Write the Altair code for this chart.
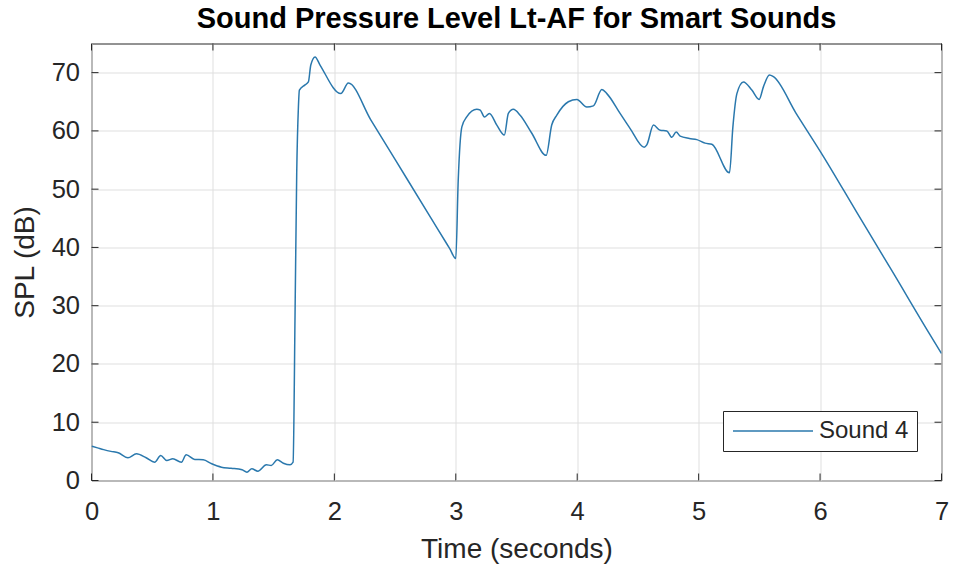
import altair as alt
import pandas as pd

# Lt-AF sound pressure level trace for "Sound 4"
time_s = [
    0.0, 0.05, 0.10, 0.16, 0.22, 0.30, 0.37, 0.45, 0.52, 0.57, 0.62, 0.67, 0.74,
    0.78, 0.85, 0.92, 0.99, 1.07, 1.15, 1.24, 1.28, 1.32, 1.37, 1.44, 1.48,
    1.53, 1.58, 1.635, 1.66, 1.677, 1.69, 1.704, 1.712, 1.759, 1.786, 1.806,
    1.841, 1.882, 2.053, 2.115, 2.3, 2.6, 2.85, 2.95, 3.0, 3.02, 3.05, 3.09,
    3.173, 3.2, 3.236, 3.277, 3.338, 3.40, 3.433, 3.474, 3.53, 3.626, 3.744,
    3.79, 3.832, 3.927, 3.997, 4.079, 4.133, 4.203, 4.244, 4.353, 4.436, 4.551,
    4.573, 4.628, 4.683, 4.738, 4.779, 4.815, 4.848, 4.924, 4.985, 5.053,
    5.109, 5.254, 5.282, 5.315, 5.369, 5.438, 5.498, 5.534, 5.583, 5.616,
    5.8, 6.028, 6.3, 6.6, 6.9, 7.0,
]
spl_db = [
    5.9, 5.6, 5.3, 5.0, 4.76, 3.9, 4.59, 3.9, 3.14, 4.3, 3.44, 3.73, 3.14,
    4.42, 3.61, 3.56, 2.87, 2.29, 2.11, 1.84, 1.43, 2.01, 1.6, 2.7, 2.58,
    3.56, 2.97, 2.7, 3.14, 29.8, 52.7, 64.1, 67.0, 67.9, 68.4, 71.3,
    72.7, 71.3, 66.4, 68.2, 61.9, 51.7, 43.2, 39.8, 38.1, 51.5, 60.7, 62.4,
    63.7, 63.6, 62.4, 63.0, 61.0, 59.3, 63.0, 63.7, 62.7, 59.6, 55.8,
    61.0, 62.7, 65.0, 65.4, 64.1, 64.3, 67.1, 66.4, 63.0, 60.4, 57.2,
    57.6, 61.0, 60.1, 60.0, 58.9, 59.8, 59.1, 58.7, 58.5, 57.9,
    57.7, 52.8, 60.7, 66.4, 68.4, 67.0, 65.4, 67.6, 69.6, 69.3,
    63.1, 55.6, 46.1, 35.7, 25.2, 21.8,
]
series_name = "Sound 4"
x_ticks = [0, 1, 2, 3, 4, 5, 6, 7]
y_ticks = [0, 10, 20, 30, 40, 50, 60, 70]

FONT = "Liberation Sans"
INK = "#262626"
LINE_COLOR = "#2a78ad"
W, H = 850, 437
TICK_LEN = 7

trace = pd.DataFrame({"Time": time_s, "SPL": spl_db, "Series": series_name})
xt = pd.DataFrame({"Time": x_ticks})
yt = pd.DataFrame({"SPL": y_ticks})

x_scale = alt.Scale(domain=[0, 7], nice=False, zero=False)
y_scale = alt.Scale(domain=[0, 75], nice=False)

line = alt.Chart(trace).mark_line(
    strokeWidth=1.5, interpolate="monotone", clip=True
).encode(
    x=alt.X(
        "Time:Q", scale=x_scale,
        axis=alt.Axis(values=x_ticks, title="Time (seconds)", format="d",
                      labelPadding=19, labelFlush=False,
                      titleY=77, titleBaseline="alphabetic"),
    ),
    y=alt.Y(
        "SPL:Q", scale=y_scale,
        axis=alt.Axis(values=y_ticks, title="SPL (dB)", format="d",
                      labelPadding=12, labelFlush=False, titleX=-58.5,
                      titleBaseline="alphabetic"),
    ),
    color=alt.Color(
        "Series:N",
        scale=alt.Scale(range=[LINE_COLOR]),
        legend=alt.Legend(
            title=None, orient="none", legendX=631.5, legendY=367.5,
            symbolType="M-2,0H14", symbolSize=100, symbolStrokeWidth=1.5,
            labelOffset=64, labelFontSize=24, labelFont=FONT, labelColor=INK,
            padding=8, strokeColor=INK, fillColor="white",
        ),
    ),
)

# inward tick marks on all four sides of the box
tick_bottom = alt.Chart(xt).mark_rule(color=INK, strokeWidth=1).encode(
    x="Time:Q", y=alt.value(H), y2=alt.value(H - TICK_LEN))
tick_top = alt.Chart(xt).mark_rule(color=INK, strokeWidth=1).encode(
    x="Time:Q", y=alt.value(0), y2=alt.value(TICK_LEN))
tick_left = alt.Chart(yt).mark_rule(color=INK, strokeWidth=1).encode(
    y="SPL:Q", x=alt.value(0), x2=alt.value(TICK_LEN))
tick_right = alt.Chart(yt).mark_rule(color=INK, strokeWidth=1).encode(
    y="SPL:Q", x=alt.value(W), x2=alt.value(W - TICK_LEN))

chart = alt.layer(line, tick_bottom, tick_top, tick_left, tick_right).properties(
    width=W,
    height=H,
    autosize="none",
    background="white",
    padding={"left": 91.5, "top": 43.5, "right": 12.5, "bottom": 89.5},
    title=alt.TitleParams(
        "Sound Pressure Level Lt-AF for Smart Sounds",
        font=FONT, fontSize=29, fontWeight="bold", color="#000000",
        anchor="middle", frame="group", baseline="alphabetic", offset=-13.5,
    ),
).configure_view(
    stroke=INK, strokeWidth=1, fill="white"
).configure_axis(
    grid=True, gridColor="#dfdfdf", gridWidth=1,
    domain=False, ticks=False,
    labelFont=FONT, labelFontSize=25.5, labelColor=INK,
    titleFont=FONT, titleFontSize=28, titleColor=INK, titleFontWeight="normal",
)

chart.save("out.html", embed_options={"renderer": "svg", "actions": False})
